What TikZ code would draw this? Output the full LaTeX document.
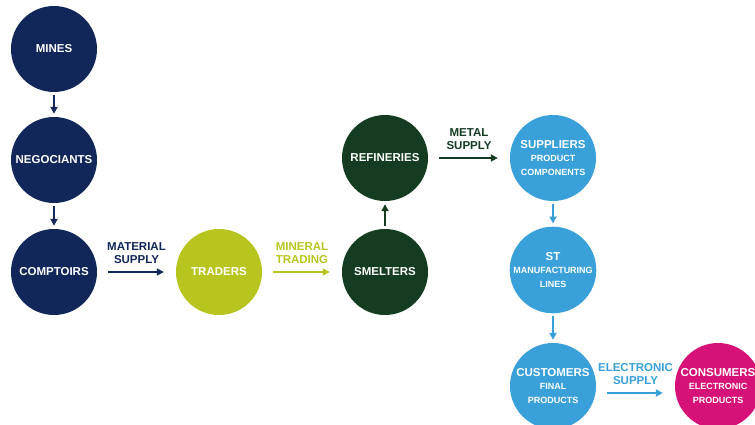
\documentclass[tikz,border=0pt]{standalone}
\usepackage{fontspec}
\setmainfont{Liberation Sans}
\usepackage{tikz}
\usetikzlibrary{positioning}
\usetikzlibrary{arrows.meta}

\definecolor{navy}{RGB}{17,39,90}
\definecolor{forest}{RGB}{20,60,33}
\definecolor{lime}{RGB}{183,197,30}
\definecolor{sky}{RGB}{58,160,218}
\definecolor{berry}{RGB}{214,18,120}

\newcommand{\subline}{\fontsize{9}{12.5}\selectfont}

\begin{document}
\begin{tikzpicture}[x=1pt,y=-1pt,
	stage/.style={circle,minimum size=86pt,inner sep=0pt,text=white,align=center,
		font=\fontsize{11.5}{13.5}\selectfont\bfseries},
	flow/.style={line width=2pt,-{Triangle[length=7pt,width=7pt]}},
	hflow/.style={flow,shorten <=11pt,shorten >=12pt},
	vflow/.style={flow,shorten <=3pt,shorten >=3pt},
	flowlabel/.style={above=6pt,align=center,inner sep=1pt,
		font=\fontsize{11.5}{13.5}\selectfont\bfseries}]
				\useasboundingbox (0,0) rectangle (755,425);
				
				%Nodes
				\node[stage,fill=navy]   (mines) 	  at (54,49)   {MINES};
				\node[stage,fill=navy]   (negociants) at (54,160)  {NEGOCIANTS};
				\node[stage,fill=navy]   (comptoirs)  at (54,272)  {COMPTOIRS};
				\node[stage,fill=lime]   (traders)    at (219,272) {TRADERS};
				\node[stage,fill=forest] (smelters)   at (385,272) {SMELTERS};
				\node[stage,fill=forest] (refineries) at (385,158) {REFINERIES};
				\node[stage,fill=sky]    (suppliers)  at (553,158) {SUPPLIERS\\\subline PRODUCT\\\subline COMPONENTS};
				\node[stage,fill=sky]    (stlines)    at (553,270) {ST\\\subline MANUFACTURING\\\subline LINES};
				\node[stage,fill=sky]    (customers)  at (553,386) {CUSTOMERS\\\subline FINAL\\\subline PRODUCTS};
				\node[stage,fill=berry]  (consumers)  at (718,386) {CONSUMERS\\\subline ELECTRONIC\\\subline PRODUCTS};
				
				%Lines
				\draw[vflow,navy] (mines) -- (negociants);
				\draw[vflow,navy] (negociants) -- (comptoirs);
				\draw[hflow,navy] (comptoirs) -- node[flowlabel,text=navy] {MATERIAL\\SUPPLY} (traders);
				\draw[hflow,lime] (traders) -- node[flowlabel,text=lime] {MINERAL\\TRADING} (smelters);
				\draw[vflow,forest] (smelters) -- (refineries);
				\draw[hflow,forest] (refineries) -- node[flowlabel,text=forest] {METAL\\SUPPLY} (suppliers);
				\draw[vflow,sky] (suppliers) -- (stlines);
				\draw[vflow,sky] (stlines) -- (customers);
				\draw[hflow,sky] ([yshift=-7pt]customers.east) -- node[flowlabel,text=sky] {ELECTRONIC\\SUPPLY} ([yshift=-7pt]consumers.west);
				
\end{tikzpicture}
\end{document}
